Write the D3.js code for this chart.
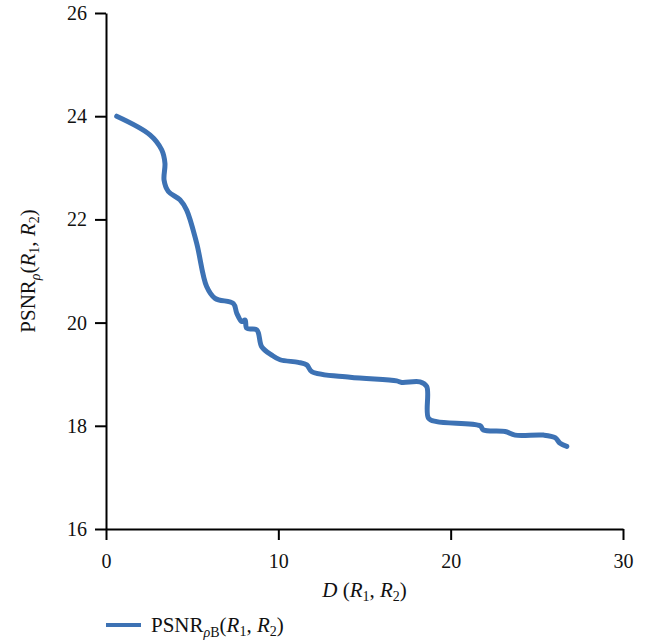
<!DOCTYPE html>
<html>
<head>
<meta charset="utf-8">
<script src="https://cdn.jsdelivr.net/npm/d3@7"></script>
<style>
  body { margin: 0; background: #fff; }
  text { font-family: "Liberation Serif", "DejaVu Serif", serif; fill: #111; }
</style>
</head>
<body>
<div class="canvas"></div>
<script>
// data
const dValues = [0.62, 2.55, 3.23, 3.42, 3.37, 3.62, 4.29, 4.68, 5.26, 5.84, 6.33, 7.39, 7.59, 7.88, 8.07, 8.17, 8.75, 9.04, 9.62, 10.10, 11.16, 11.65, 11.94, 14.16, 16.87, 17.16, 18.22, 18.61, 18.71, 19.19, 21.71, 21.90, 23.16, 23.74, 25.38, 26.06, 26.35, 26.74]
const psnrValues = [24.0, 23.64, 23.35, 23.09, 22.76, 22.54, 22.38, 22.18, 21.54, 20.70, 20.47, 20.37, 20.18, 20.02, 20.05, 19.89, 19.86, 19.53, 19.37, 19.28, 19.23, 19.18, 19.05, 18.94, 18.87, 18.84, 18.85, 18.76, 18.15, 18.08, 18.00, 17.92, 17.89, 17.82, 17.82, 17.77, 17.66, 17.60]
const xTicks = [0, 10, 20, 30]
const yTicks = [16, 18, 20, 22, 24, 26]

const dims = { width: 652, height: 642 }
const margin = { left: 106, right: 29, top: 13, bottom: 113 }
const colour = '#3d72b4'

const svg = d3.select('.canvas')
    .append('svg')
    .attr('width', dims.width)
    .attr('height', dims.height)

const x = d3.scaleLinear()
    .domain([0, 30])
    .range([margin.left, dims.width - margin.right])

const y = d3.scaleLinear()
    .domain([16, 26])
    .range([dims.height - margin.bottom, margin.top])

// axes
const xAxis = svg.append('g')
    .attr('transform', `translate(0, ${y(16)})`)
    .call(d3.axisBottom(x).tickValues(xTicks).tickSize(11).tickPadding(14).tickSizeOuter(0))

const yAxis = svg.append('g')
    .attr('transform', `translate(${x(0)}, 0)`)
    .call(d3.axisLeft(y).tickValues(yTicks).tickSize(11).tickPadding(8).tickSizeOuter(0))

;[xAxis, yAxis].forEach(ax => {
    ax.select('.domain').attr('stroke', '#000').attr('stroke-width', 2)
    ax.selectAll('.tick line').attr('stroke', '#000').attr('stroke-width', 2)
    ax.selectAll('.tick text')
        .attr('font-family', '"Liberation Serif", serif')
        .attr('font-size', 20)
        .attr('fill', '#111')
})

// the curve
const line = d3.line()
    .x(d => x(d[0]))
    .y(d => y(d[1]))
    .curve(d3.curveCatmullRom.alpha(0.5))

svg.append('path')
    .datum(d3.zip(dValues, psnrValues))
    .attr('d', line)
    .attr('fill', 'none')
    .attr('stroke', colour)
    .attr('stroke-width', 5)
    .attr('stroke-linecap', 'round')
    .attr('stroke-linejoin', 'round')

// axis titles
const xTitle = svg.append('text')
    .attr('x', (x(0) + x(30)) / 2)
    .attr('y', 597)
    .attr('text-anchor', 'middle')
    .attr('font-size', 21)
xTitle.append('tspan').attr('font-style', 'italic').text('D')
xTitle.append('tspan').text(' (')
xTitle.append('tspan').attr('font-style', 'italic').text('R')
xTitle.append('tspan').attr('font-size', 14).attr('dy', 4).text('1')
xTitle.append('tspan').attr('dy', -4).text(', ')
xTitle.append('tspan').attr('font-style', 'italic').text('R')
xTitle.append('tspan').attr('font-size', 14).attr('dy', 4).text('2')
xTitle.append('tspan').attr('dy', -4).text(')')

const yTitle = svg.append('text')
    .attr('transform', `translate(35, ${(y(16) + y(26)) / 2}) rotate(-90)`)
    .attr('text-anchor', 'middle')
    .attr('font-size', 21)
yTitle.append('tspan').text('PSNR')
yTitle.append('tspan').attr('font-size', 14).attr('font-style', 'italic').attr('dy', 5).text('ρ')
yTitle.append('tspan').attr('dy', -5).text('(')
yTitle.append('tspan').attr('font-style', 'italic').text('R')
yTitle.append('tspan').attr('font-size', 14).attr('dy', 4).text('1')
yTitle.append('tspan').attr('dy', -4).text(', ')
yTitle.append('tspan').attr('font-style', 'italic').text('R')
yTitle.append('tspan').attr('font-size', 14).attr('dy', 4).text('2')
yTitle.append('tspan').attr('dy', -4).text(')')

// legend
const legend = svg.append('g').attr('transform', 'translate(106, 625)')
legend.append('line')
    .attr('x1', 0).attr('x2', 35)
    .attr('stroke', colour)
    .attr('stroke-width', 4)
const legendText = legend.append('text')
    .attr('x', 45)
    .attr('y', 7)
    .attr('font-size', 21)
legendText.append('tspan').text('PSNR')
legendText.append('tspan').attr('font-size', 14).attr('font-style', 'italic').attr('dy', 5).text('ρ')
legendText.append('tspan').attr('font-size', 14).text('B')
legendText.append('tspan').attr('dy', -5).text('(')
legendText.append('tspan').attr('font-style', 'italic').text('R')
legendText.append('tspan').attr('font-size', 14).attr('dy', 4).text('1')
legendText.append('tspan').attr('dy', -4).text(', ')
legendText.append('tspan').attr('font-style', 'italic').text('R')
legendText.append('tspan').attr('font-size', 14).attr('dy', 4).text('2')
legendText.append('tspan').attr('dy', -4).text(')')
</script>
</body>
</html>
